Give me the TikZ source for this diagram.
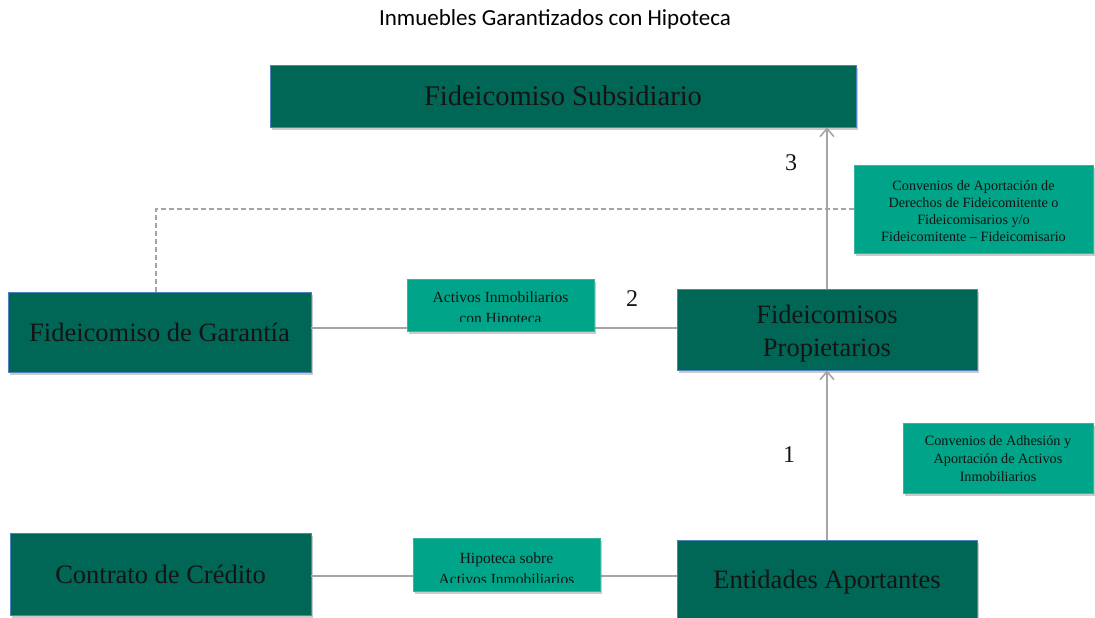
\documentclass[tikz,border=0pt]{standalone}
\usepackage{fontspec}
\setmainfont{Liberation Serif}
\newfontfamily\titlefont{Carlito}
\usetikzlibrary{shadows,arrows.meta}
\definecolor{darkteal}{RGB}{0,102,86}
\definecolor{lightteal}{RGB}{0,164,136}
\definecolor{edgeblue}{RGB}{79,129,189}
\definecolor{conn}{RGB}{165,165,165}
\definecolor{txt}{RGB}{20,20,20}
\begin{document}
\begin{tikzpicture}[x=1pt,y=-1pt,
  bigbox/.style={draw=edgeblue, line width=0.9pt, fill=darkteal, inner sep=0pt, align=center, text=txt,
    font=\fontsize{26.5}{33}\selectfont,
    drop shadow={shadow xshift=1.5pt, shadow yshift=-3pt, opacity=0.35, fill=black!60}},
  labbox/.style={fill=lightteal, draw=lightteal!80!white, line width=0.5pt, inner sep=0pt,
    drop shadow={shadow xshift=1.5pt, shadow yshift=-3pt, opacity=0.35, fill=black!60}},
  labtext/.style={inner sep=0pt, align=center, text=txt},
  numtext/.style={inner sep=0pt, text=txt, font=\fontsize{24}{28}\selectfont},
  link/.style={draw=conn, line width=1.8pt},
  uparrow/.style={draw=conn, line width=1.8pt, -{Straight Barb[length=8pt,width=14pt,line width=1.6pt]}},
  dashlink/.style={draw=conn, line width=1.5pt, dash pattern=on 5pt off 3pt}
]
\useasboundingbox (0,0) rectangle (1095,618);

% title
\node[inner sep=0pt, text=black, font=\titlefont\fontsize{23}{26}\selectfont] (title) at (555,19) {Inmuebles Garantizados con Hipoteca};

% helper coordinates
\coordinate (garN) at (156,292);
\coordinate (hline1) at (156,328);
\coordinate (propL) at (677,328);
\coordinate (hline2) at (311,576);
\coordinate (entL) at (677,576);

% main boxes
\node[bigbox, minimum width=586pt, minimum height=62pt, font=\fontsize{28.5}{33}\selectfont] (sub) at (563,96) {Fideicomiso Subsidiario};
\node[bigbox, minimum width=303pt, minimum height=80pt] (gar) at (159.5,332) {Fideicomiso de Garant\'{\i}a};
\node[bigbox, minimum width=300pt, minimum height=81pt] (prop) at (827,329.5) {};
\node[labtext, font=\fontsize{26.5}{33}\selectfont] (propt) at (827,334) {Fideicomisos\\Propietarios};
\node[bigbox, minimum width=301pt, minimum height=82pt] (cred) at (160.5,574) {Contrato de Cr\'edito};
\node[bigbox, minimum width=300pt, minimum height=84pt] (ent) at (827,582) {Entidades Aportantes};

% label boxes on the right
\node[labbox, minimum width=239pt, minimum height=88pt] (conv3) at (973.5,209) {};
\node[labbox, minimum width=190pt, minimum height=70pt] (conv1) at (998,458) {};

% connectors
\draw[link] (gar.east |- hline1) -- (propL);
\draw[link] (cred.east |- hline2) -- (entL);
\draw[dashlink] (gar.north -| garN) |- (conv3.west);
\draw[uparrow] (ent.north) -- (prop.south);
\draw[uparrow] (prop.north) -- (prop.north |- sub.south);

% label boxes sitting on the lines
\node[labbox, minimum width=187pt, minimum height=52pt] (lab1) at (500.5,305) {};
\node[labbox, minimum width=187pt, minimum height=53pt] (lab2) at (506.5,564.5) {};

\begin{scope}
\clip (lab1.north west) rectangle ([yshift=10pt]lab1.south east);
\node[labtext, font=\fontsize{15.5}{21}\selectfont] (lab1t) at (500.5,309) {Activos Inmobiliarios\\con Hipoteca};
\end{scope}
\begin{scope}
\clip (lab2.north west) rectangle ([yshift=9pt]lab2.south east);
\node[labtext, font=\fontsize{15.5}{21}\selectfont] (lab2t) at (506.5,569) {Hipoteca sobre\\Activos Inmobiliarios};
\end{scope}

\node[labtext, font=\fontsize{14.2}{17}\selectfont] (conv3t) at (973.5,211) {Convenios de Aportaci\'on de\\Derechos de Fideicomitente o\\Fideicomisarios y/o\\Fideicomitente -- Fideicomisario};
\node[labtext, font=\fontsize{14.2}{18}\selectfont] (conv1t) at (998,459) {Convenios de Adhesi\'on y\\Aportaci\'on de Activos\\Inmobiliarios};

% step numbers
\node[numtext] (n3) at (791,163) {3};
\node[numtext] (n2) at (632,299) {2};
\node[numtext] (n1) at (789,455) {1};
\end{tikzpicture}
\end{document}
